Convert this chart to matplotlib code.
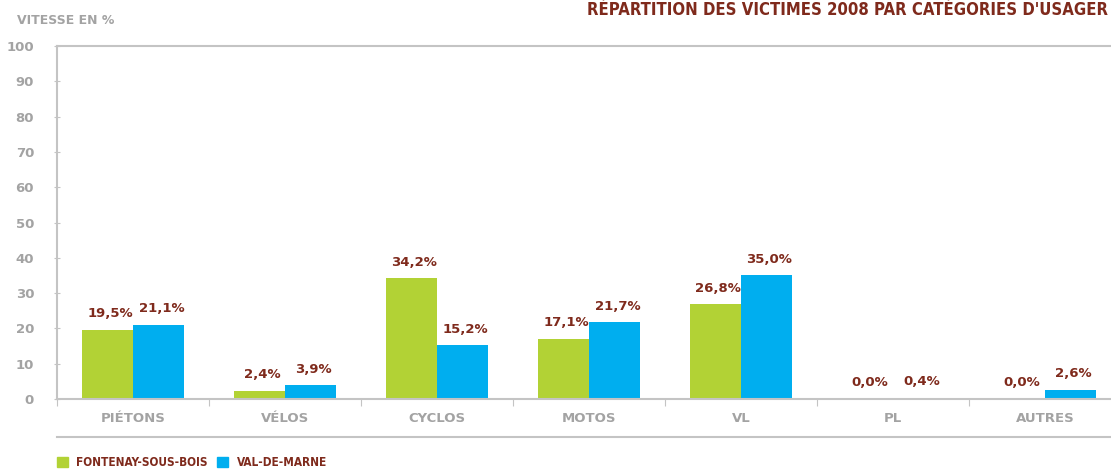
import matplotlib.pyplot as plt
import numpy as np
from matplotlib.lines import Line2D
from matplotlib.patches import Rectangle

# data
categories = ["PIÉTONS", "VÉLOS", "CYCLOS", "MOTOS", "VL", "PL", "AUTRES"]
fontenay = [19.5, 2.4, 34.2, 17.1, 26.8, 0.0, 0.0]
val_de_marne = [21.1, 3.9, 15.2, 21.7, 35.0, 0.4, 2.6]
series_names = ["FONTENAY-SOUS-BOIS", "VAL-DE-MARNE"]
y_ticks = [0, 10, 20, 30, 40, 50, 60, 70, 80, 90, 100]

GREEN = "#b2d235"
BLUE = "#00aeef"
RED = "#7f2a1c"
GREY = "#a3a3a3"
LINE = "#c4c4c4"

plt.rcParams["font.family"] = ["DejaVu Sans"]

W, H = 1111, 476
fig = plt.figure(figsize=(W / 100, H / 100), dpi=100)
ax = fig.add_axes([57 / W, (H - 399) / H, 1064 / W, 353 / H])

x = np.arange(len(categories))
bw = 0.336
b1 = ax.bar(x - bw / 2, fontenay, bw, color=GREEN, zorder=2)
b2 = ax.bar(x + bw / 2, val_de_marne, bw, color=BLUE, zorder=2)

for bars, vals in ((b1, fontenay), (b2, val_de_marne)):
    for b, v in zip(bars, vals):
        ax.annotate(f"{v:.1f}%".replace(".", ","),
                    (b.get_x() + b.get_width() / 2, v),
                    xytext=(2, 7), textcoords="offset points",
                    ha="center", va="bottom", color=RED,
                    fontsize=9.5, fontweight="bold")

ax.set_xlim(-0.5, len(categories) - 0.5)
ax.set_ylim(0, 100)
ax.set_yticks(y_ticks)
ax.set_yticklabels([str(t) for t in y_ticks], color=GREY,
                   fontsize=9.5, fontweight="bold")
ax.set_xticks(np.arange(len(categories) + 1) - 0.5)
ax.set_xticklabels([])
ax.set_xticks(x, minor=True)
ax.set_xticklabels(categories, minor=True, color=GREY,
                   fontsize=9.5, fontweight="bold")
ax.tick_params(axis="x", which="major", length=5, color=LINE, direction="out")
ax.tick_params(axis="x", which="minor", length=0, pad=9)
ax.tick_params(axis="y", length=5, color=LINE, direction="inout", pad=14)

for s in ("left", "bottom", "top"):
    ax.spines[s].set_color(LINE)
    ax.spines[s].set_linewidth(1.5)
ax.spines["right"].set_visible(False)

# titles
fig.text(17 / W, 1 - 20 / H, "VITESSE EN %", color=GREY, fontsize=9,
         fontweight="bold", va="center", ha="left")
fig.text(1108 / W, 1 - 1 / H,
         "RÉPARTITION DES VICTIMES 2008 PAR CATÉGORIES D'USAGER",
         color=RED, fontsize=12, fontweight="bold", va="top", ha="right",
         stretch="condensed")

# bottom rule
fig.add_artist(Line2D([57 / W, 1.0], [1 - 437 / H] * 2, color=LINE, lw=1.5))

# legend
renderer = fig.canvas.get_renderer()
lx = 57
for name, col in zip(series_names, [GREEN, BLUE]):
    fig.add_artist(Rectangle((lx / W, 1 - 467 / H), 11 / W, 10 / H,
                             color=col, transform=fig.transFigure))
    t = fig.text((lx + 19) / W, 1 - 462 / H, name, color=RED, fontsize=8.5,
                 fontweight="bold", va="center", ha="left",
                 stretch="condensed")
    lx = max(197, t.get_window_extent(renderer).x1 + 10)

fig.savefig("out.png", dpi=100)
